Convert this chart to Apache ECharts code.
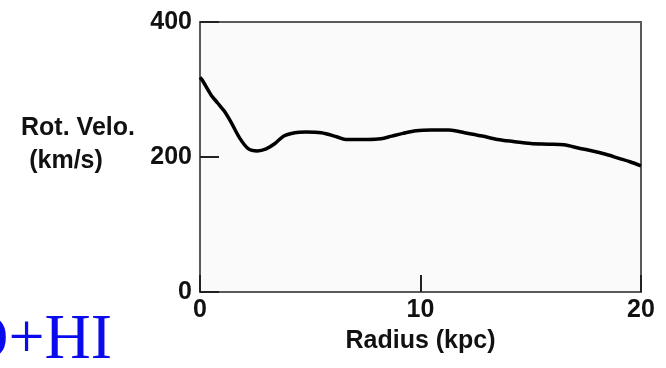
<!DOCTYPE html>
<html>
<head>
<meta charset="utf-8">
<script src="https://cdn.jsdelivr.net/npm/echarts@6/dist/echarts.min.js"></script>
<style>html,body{margin:0;padding:0;background:#fff;}#c{width:666px;height:368px;}</style>
</head>
<body>
<div id="c"></div>
<script>
const radius = [0, 0.1, 0.5, 0.8, 1.1, 1.4, 1.8, 2.2, 2.6, 3.0, 3.4, 3.8, 4.3, 4.8, 5.5, 6.2, 6.6, 7.0, 7.6, 8.2, 8.7, 9.2, 9.8, 10.5, 11.3, 12.0, 12.8, 13.5, 14.2, 15.0, 15.8, 16.5, 17.2, 17.8, 18.4, 19.0, 19.5, 20.0];
const velocity = [318, 314, 292, 280, 268, 252, 228, 212, 209, 212, 220, 231, 236, 237, 236, 230, 226, 226, 226, 227, 231, 235, 239, 240, 240, 236, 231, 226, 223, 220, 219, 218, 213, 209, 204, 198, 193, 187];
const xTicks = [0, 10, 20];
const yTicks = [0, 200, 400];
const xTitle = 'Radius (kpc)';
const yTitle1 = 'Rot. Velo.';
const yTitle2 = '(km/s)';
const sideLabel = 'CO+HI';

const font = '"Liberation Sans", Arial, sans-serif';
const chart = echarts.init(document.getElementById('c'), null, {renderer: 'canvas'});
chart.setOption({
  animation: false,
  backgroundColor: '#ffffff',
  grid: {left: 200, top: 22, width: 441, height: 270, show: true, backgroundColor: '#fafafa', borderColor: '#5a5a5a', borderWidth: 2},
  xAxis: {
    type: 'value', min: xTicks[0], max: xTicks[xTicks.length - 1], interval: 10,
    axisLine: {show: false},
    axisTick: {show: true, inside: true, length: 17, lineStyle: {color: '#222', width: 2}},
    splitLine: {show: false},
    axisLabel: {margin: 6, fontSize: 25, fontWeight: 'bold', fontFamily: font, color: '#111'},
    name: xTitle, nameLocation: 'middle', nameGap: 37,
    nameTextStyle: {fontSize: 25, fontWeight: 'bold', fontFamily: font, color: '#111'}
  },
  yAxis: {
    type: 'value', min: yTicks[0], max: yTicks[yTicks.length - 1], interval: 200,
    axisLine: {show: false},
    axisTick: {show: true, inside: true, length: 19, lineStyle: {color: '#222', width: 2}},
    splitLine: {show: false},
    axisLabel: {margin: 8, fontSize: 25, fontWeight: 'bold', fontFamily: font, color: '#111'}
  },
  graphic: [
    {type: 'text', x: 78, y: 128, style: {text: yTitle1, fill: '#111', font: 'bold 25px ' + font, textAlign: 'center', textVerticalAlign: 'middle'}},
    {type: 'text', x: 66, y: 161, style: {text: yTitle2, fill: '#111', font: 'bold 25px ' + font, textAlign: 'center', textVerticalAlign: 'middle'}},
    {type: 'text', x: 112, y: 341, style: {text: sideLabel, fill: '#0a0aee', font: '64px "Liberation Serif", "Times New Roman", serif', textAlign: 'right', textVerticalAlign: 'middle'}}
  ],
  series: [{
    type: 'line', data: radius.map((r, i) => [r, velocity[i]]),
    showSymbol: false, smooth: 0.3,
    lineStyle: {color: '#000', width: 3.5}
  }]
});
</script>
</body>
</html>
